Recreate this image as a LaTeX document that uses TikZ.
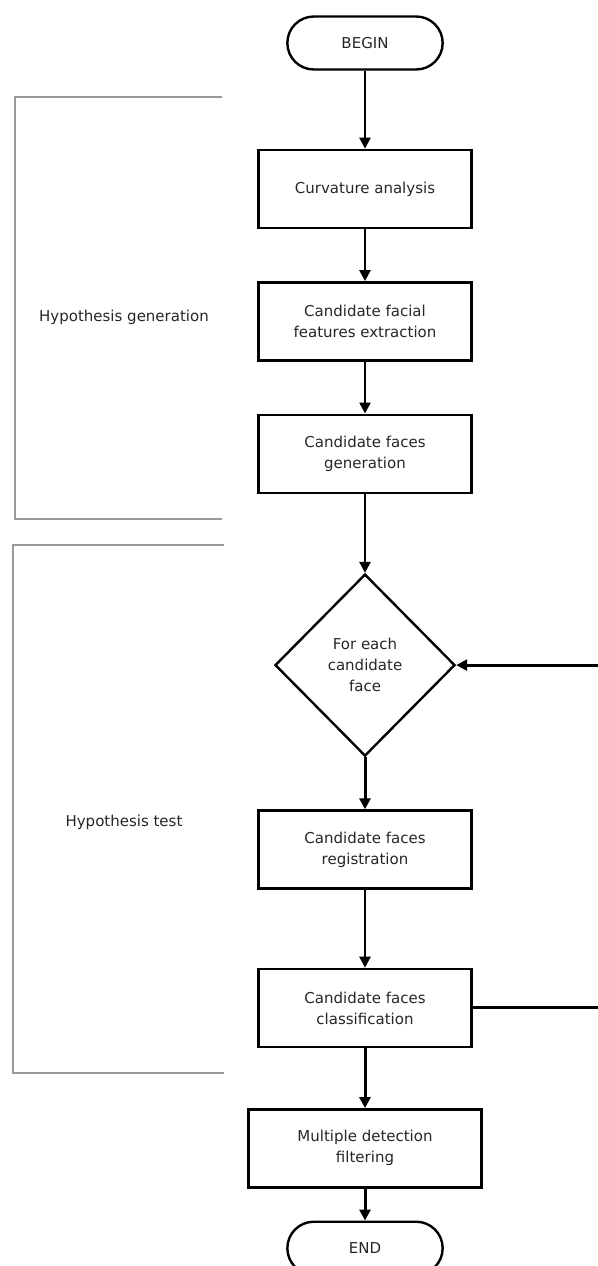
\documentclass[tikz,border=0pt]{standalone}
\usepackage{fontspec}
\setmainfont{DejaVu Sans}
\usepackage{tikz}
\usetikzlibrary{shapes.geometric,shapes.misc,arrows.meta,positioning,calc}

\begin{document}
\begin{tikzpicture}[
    x=1pt, y=1pt,
    font=\fontsize{15}{21}\selectfont,
    node distance=0pt,
    term/.style={draw, rounded rectangle, minimum width=162pt, minimum height=53pt, line width=2.4pt, text=black!85},
    stage/.style={draw, minimum width=213pt, minimum height=78pt, align=center, line width=2.4pt, text=black!85},
    choice/.style={draw, diamond, minimum width=180pt, minimum height=182pt, inner sep=0pt, align=center, line width=2.4pt, text=black!85},
    phase/.style={draw=black!40, line width=1.6pt},
    flow/.style={-{Triangle[length=11pt,width=11pt]}, line width=2.4pt}
]
\useasboundingbox (0,0) rectangle (597,-1266);

\node[term] (begin) at (365,-43) {BEGIN};
\node[stage, below=78pt of begin] (curv) {Curvature analysis};
\node[stage, below=52pt of curv] (feat) {Candidate facial\\features extraction};
\node[stage, below=52pt of feat] (gen) {Candidate faces\\generation};
\node[choice, below=79pt of gen] (loop) {For each\\candidate\\face};
\node[stage, below=52pt of loop] (reg) {Candidate faces\\registration};
\node[stage, below=78pt of reg] (cls) {Candidate faces\\classification};
\node[stage, minimum width=233pt, below=60pt of cls] (filt) {Multiple detection\\filtering};
\node[term, below=32pt of filt] (end) {END};

% phase brackets
\draw[phase] (222,-97) -- (15,-97) -- (15,-519) -- (222,-519);
\draw[phase] (224,-545) -- (13,-545) -- (13,-1073) -- (224,-1073);
\node[text=black!85] (hgen) at (124,-317) {Hypothesis generation};
\node[text=black!85] (htest) at (124,-822) {Hypothesis test};

\foreach \a/\b in {begin/curv, curv/feat, feat/gen, gen/loop, reg/cls}
  \draw[flow] (\a.south) -- (\b.north);
\foreach \a/\b in {loop/reg, cls/filt, filt/end}
  \draw[flow, line width=3pt] (\a.south) -- (\b.north);

% loop back
\coordinate (back) at ($(cls.east)+(150pt,0)$);
\draw[flow, line width=3pt] (cls.east) -- (back) |- (loop.east);
\end{tikzpicture}
\end{document}
